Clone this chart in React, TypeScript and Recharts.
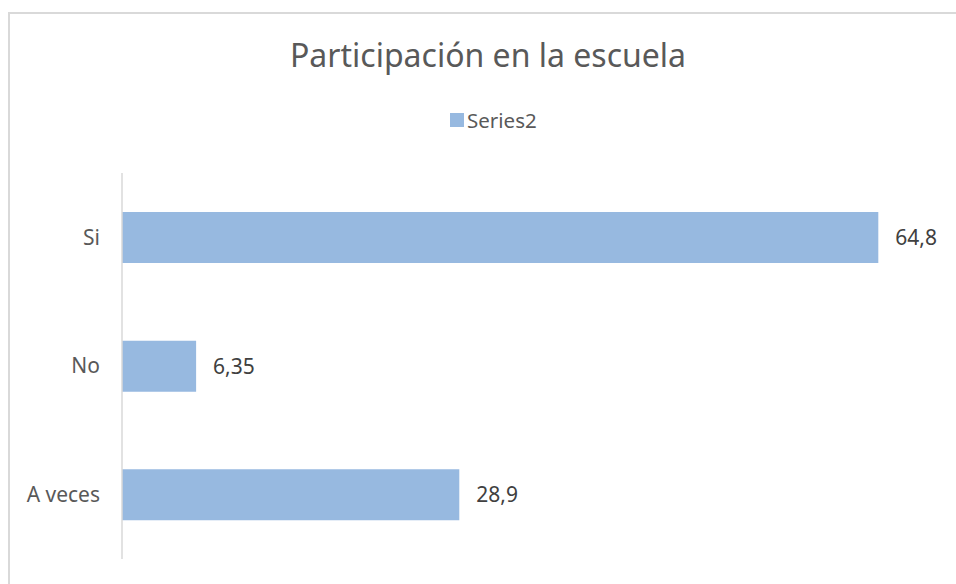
import React from 'react';
import { BarChart, Bar, XAxis, YAxis, Legend, LabelList } from 'recharts';

const categories = ['Si', 'No', 'A veces'];
const series2 = [64.8, 6.35, 28.9];
const valueLabels = ['64,8', '6,35', '28,9'];

const data = categories.map((c, i) => ({ name: c, value: series2[i], label: valueLabels[i] }));

const FONT = '"Noto Sans", "Open Sans", sans-serif';
const BAR_COLOR = '#97B9E0';

function LegendContent(props: any) {
  const items = props.payload || [];
  return (
    <div style={{ display: 'flex', alignItems: 'center', height: 20, paddingLeft: 450, fontFamily: FONT }}>
      {items.map((it: any) => (
        <React.Fragment key={it.value}>
          <span style={{ width: 14, height: 14, background: it.color, display: 'inline-block', marginRight: 3 }} />
          <span style={{ fontSize: 20.5, color: '#595959', lineHeight: '20px' }}>{it.value}</span>
        </React.Fragment>
      ))}
    </div>
  );
}

export default function App() {
  return (
    <div style={{ position: 'fixed', left: 0, top: 0, width: 956, height: 584, overflow: 'hidden', background: '#fff' }}>
      <div style={{ position: 'absolute', left: 8, top: 12, width: 980, height: 620, border: '2px solid #d9d9d9', boxSizing: 'border-box' }} />
      <svg style={{ position: 'absolute', left: 0, top: 0 }} width={956} height={100}>
        <text x={488} y={67} textAnchor="middle" fontFamily={FONT} fontSize={32} fill="#595959">
          Participación en la escuela
        </text>
      </svg>
      <div style={{ position: 'absolute', left: 0, top: 0 }}>
        <BarChart
          width={956}
          height={584}
          data={data}
          layout="vertical"
          margin={{ top: 153, right: 17, bottom: 25, left: 0 }}
        >
          <XAxis type="number" domain={[0, 70]} hide />
          <YAxis
            type="category"
            dataKey="name"
            width={122}
            axisLine={{ stroke: '#d9d9d9', strokeWidth: 1.5 }}
            tickLine={false}
            tickSize={0}
            tickMargin={22}
            tick={{ fill: '#595959', fontSize: 21, fontFamily: FONT }}
          />
          <Legend
            verticalAlign="top"
            content={<LegendContent />}
            wrapperStyle={{ top: 110, left: 0, width: 956, height: 20 }}
          />
          <Bar dataKey="value" name="Series2" fill={BAR_COLOR} barSize={51} isAnimationActive={false}>
            <LabelList dataKey="label" position="right" offset={17} fill="#404040" fontSize={21} fontFamily={FONT} />
          </Bar>
        </BarChart>
      </div>
    </div>
  );
}
